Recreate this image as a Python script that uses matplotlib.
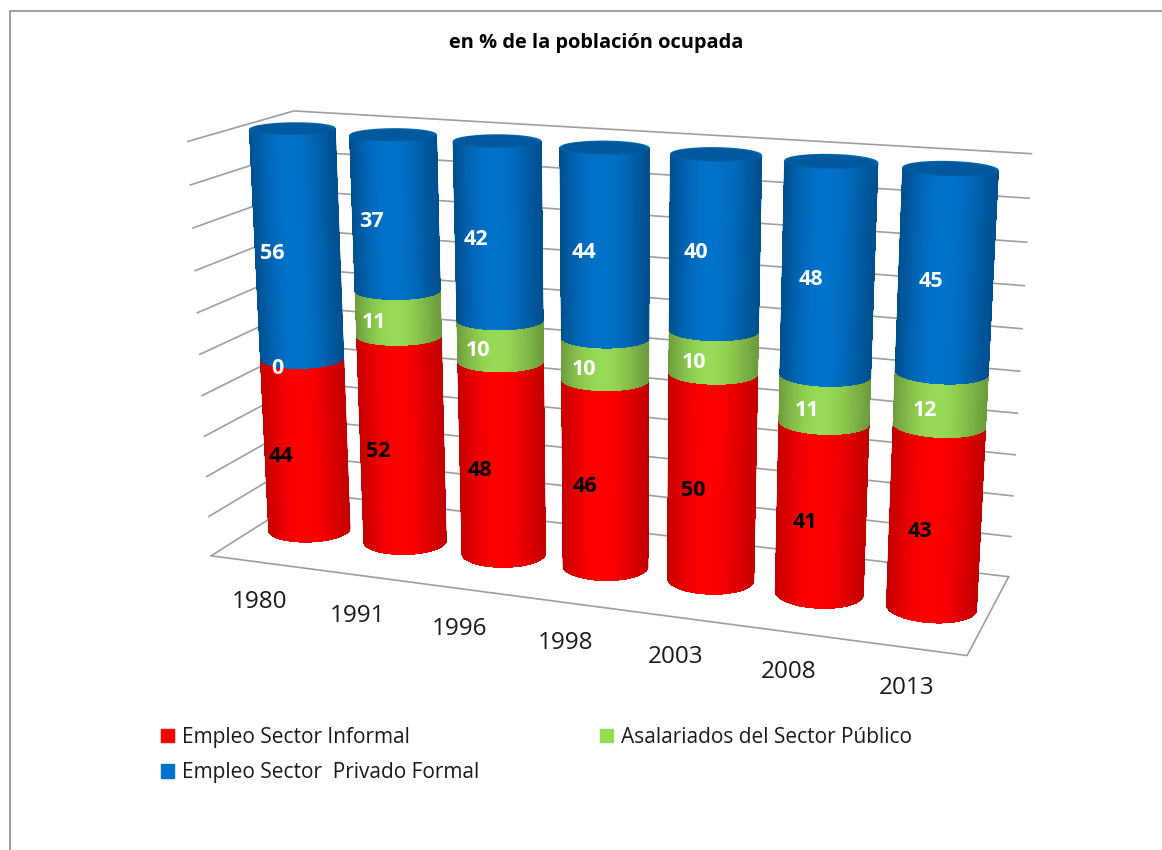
import numpy as np
import matplotlib
matplotlib.use('Agg')
import matplotlib.pyplot as plt
from matplotlib.collections import PolyCollection
from matplotlib.patches import Patch, Polygon

years = ['1980', '1991', '1996', '1998', '2003', '2008', '2013']
informal = [44, 52, 48, 46, 50, 41, 43]
publico = [0, 11, 10, 10, 10, 11, 12]
privado = [56, 37, 42, 44, 40, 48, 45]
series_names = ['Empleo Sector Informal', 'Asalariados del Sector Público', 'Empleo Sector  Privado Formal']

RED = ('#c40000', '#ff0000')
GREEN = ('#6d9c3c', '#97da55')
BLUE = ('#004f8e', '#0072ca')

W, H = 1162, 850
RX, RY = 0.0555, 0.19

# chart box corners: (x, depth, value) -> where they land in the picture
box_3d = [(0, 0, 0), (1, 0, 0), (1, 1, 0), (0, 1, 0),
          (0, 0, 100), (1, 0, 100), (1, 1, 100), (0, 1, 100)]
box_px = [(210, 554), (968, 655), (1008, 577), (311, 495),
          (188, 140), (990, 197), (1031, 150), (294, 112)]


def fit_camera(pts3, pts2):
    A, b = [], []
    for (x, y, z), (u, v) in zip(pts3, pts2):
        A.append([x, y, z, 1, 0, 0, 0, 0, -u * x, -u * y, -u * z])
        A.append([0, 0, 0, 0, x, y, z, 1, -v * x, -v * y, -v * z])
        b += [u, v]
    p = np.linalg.lstsq(np.array(A, float), np.array(b, float), rcond=None)[0]
    return np.append(p, 1).reshape(3, 4)


cam = fit_camera(box_3d, box_px)


def project(x, y, z):
    x, y, z = np.broadcast_arrays(x, y, z)
    q = cam @ np.vstack([x.ravel(), y.ravel(), z.ravel(), np.ones(x.size)])
    return q[0] / q[2], q[1] / q[2]


def project1(x, y, z):
    a, b = project(x, y, z)
    return float(a[0]), float(b[0])


def mix(c0, c1, t):
    a = np.array(matplotlib.colors.to_rgb(c0))
    b = np.array(matplotlib.colors.to_rgb(c1))
    return tuple(a + (b - a) * t)


def draw_segment(ax, xc, z0, z1, colors, yc=0.5):
    # front half of the ring, from left silhouette to right silhouette
    th = np.linspace(np.pi - 0.4, 2 * np.pi + 0.4, 400)
    sx, _ = project(xc + RX * np.cos(th), yc + RY * np.sin(th), (z0 + z1) / 2)
    t = np.linspace(th[np.argmin(sx)], th[np.argmax(sx)], 91)
    xs0, ys0 = project(xc + RX * np.cos(t), yc + RY * np.sin(t), z0)
    xs1, ys1 = project(xc + RX * np.cos(t), yc + RY * np.sin(t), z1)
    # smooth outline first, shaded strips on top of it
    outline = np.r_[np.c_[xs0, ys0], np.c_[xs1, ys1][::-1]]
    ax.add_patch(Polygon(outline, closed=True, fc=colors[0], ec=colors[0], lw=0.3, zorder=3))
    polys, cols = [], []
    for k in range(2, len(t) - 3):
        polys.append([(xs0[k], ys0[k]), (xs0[k + 1], ys0[k + 1]),
                      (xs1[k + 1], ys1[k + 1]), (xs1[k], ys1[k])])
        s = ((xs0[k] + xs0[k + 1]) / 2 - xs0.min()) / (xs0.max() - xs0.min())
        s = s ** 0.9
        cols.append(mix(colors[0], colors[1], np.sin(np.pi * s) ** 1.15))
    ax.add_collection(PolyCollection(polys, facecolors=cols, edgecolors='none', linewidths=0,
                                     antialiaseds=False, zorder=3.1))


plt.rcParams['font.family'] = ['Open Sans', 'DejaVu Sans']
fig = plt.figure(figsize=(W / 100, H / 100), dpi=100)
ax = fig.add_axes([0, 0, 1, 1])
ax.set_xlim(0, W)
ax.set_ylim(H, 0)
ax.axis('off')

# outer border (only top and left show in the picture)
ax.plot([9.5, 9.5, W], [H, 10.5, 10.5], color='#8f8f8f', lw=1.2, zorder=1)

# walls and floor
for v in range(0, 101, 10):
    gx, gy = project([0, 0, 1], [0, 1, 1], v)
    ax.plot(gx, gy, color='#9e9e9e', lw=1.2, zorder=2)
gx, gy = project([0, 1, 1], [0, 0, 1], 0)
ax.plot(gx, gy, color='#9e9e9e', lw=1.2, zorder=2)

n = len(years)
for i in range(n):
    xc = (i + 0.5) / n
    base = 0
    for val, colors, txt in [(informal[i], RED, 'black'), (publico[i], GREEN, 'white'), (privado[i], BLUE, 'white')]:
        if val > 0:
            draw_segment(ax, xc, base, base + val, colors)
        lx, ly = project1(xc - 0.006, 0.5 - RY - 0.02, base + val / 2)
        ax.text(lx, ly, str(val), ha='center', va='center', color=txt, fontsize=15.5, fontweight='bold', zorder=5)
        base += val

    # top of the cylinder
    th = np.linspace(0, 2 * np.pi, 181)
    cx, cy = project(xc + RX * np.cos(th), 0.5 + RY * np.sin(th), 100)
    ax.add_patch(Polygon(np.c_[cx, cy], closed=True, fc='#0066b0', ec='none', zorder=4))
    cx, cy = project(xc + 0.96 * RX * np.cos(th), 0.49 + 0.88 * RY * np.sin(th), 100)
    ax.add_patch(Polygon(np.c_[cx, cy], closed=True, fc='#00599c', ec='none', zorder=4))

    # year below the floor
    yx, yy = project1(xc, 0, 0)
    ax.annotate(years[i], (yx, yy), xytext=(-np.sin(np.pi * xc), -29), textcoords='offset points',
                ha='center', va='center', fontsize=17.5, color='#1a1a1a')

ax.text(596, 42.5, 'en % de la población ocupada', ha='center', va='center', fontsize=14.4, fontweight='bold', color='black')

handles = [Patch(color=RED[1], label=series_names[0]),
           Patch(color=BLUE[1], label=series_names[2]),
           Patch(color=GREEN[1], label=series_names[1])]
ax.legend(handles=handles, ncol=2, loc='upper left', bbox_to_anchor=(142.5 / W, 1 - 708 / H),
          frameon=False, fontsize=15, handlelength=0.62, handleheight=0.62, handletextpad=0.38,
          columnspacing=5.8, labelspacing=0.7, labelcolor='#1a1a1a')

fig.savefig('out.png', dpi=100)
